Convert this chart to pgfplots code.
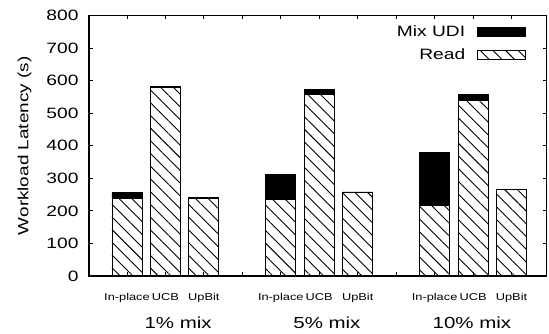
\documentclass[border=0pt]{standalone}
\usepackage{pgfplots}
\pgfplotsset{compat=1.18}
\usepackage{fontspec}
\setmainfont{Liberation Sans}[FakeStretch=1.28]
\usetikzlibrary{patterns.meta}
\begin{document}
\begin{tikzpicture}
\begin{axis}[
  scale only axis, width=457.7pt, height=260.5pt,
  xmin=-0.988, xmax=10.915, ymin=0, ymax=800,
  ybar stacked, bar width=0.78,
  ytick={0,100,...,800},
  xtick={0,...,10},
  xticklabels={In-place,UCB,UpBit,,In-place,UCB,UpBit,,In-place,UCB,UpBit},
  tick align=inside, major tick length=4pt,
  axis line style={line width=1.1pt},
  tick style={line width=0.8pt, black},
  /pgf/number format/assume math mode=true,
  yticklabel style={font=\fontsize{15}{17}\selectfont, xshift=-7pt},
  xticklabel style={font=\fontsize{10}{12}\selectfont, yshift=-14pt},
  ylabel={Workload Latency (s)},
  ylabel style={font=\fontsize{14.8}{16}\selectfont, at={(axis description cs:-0.141,0.5)}, anchor=center},
  clip=false,
  legend style={draw=none, fill=none, font=\fontsize{15}{17}\selectfont,
    at={(axis description cs:0.955,0.968)}, anchor=north east,
    inner sep=0pt, outer sep=0pt, row sep=6.5pt, column sep=10pt},
  legend plot pos=right, legend cell align=right,
  reverse legend,
  legend image code/.code={\draw[#1] (0pt,-4.5pt) rectangle (48pt,4.5pt);},
]
\addplot[draw=black, line width=0.9pt,
  pattern={Lines[angle=-45,distance=9pt,line width=0.9pt]}]
  coordinates {(0,239) (1,578) (2,239) (4,236) (5,558) (6,257) (8,218) (9,540) (10,265)};
\addplot[draw=black, line width=0.9pt, fill=black]
  coordinates {(0,17) (1,3) (2,1) (4,76) (5,15) (6,1) (8,161) (9,18) (10,1)};
\legend{Read,Mix UDI}
\node[font=\fontsize{16}{18}\selectfont, anchor=base] at (axis cs:1.33,-160) {1\% mix};
\node[font=\fontsize{16}{18}\selectfont, anchor=base] at (axis cs:5.2,-160) {5\% mix};
\node[font=\fontsize{16}{18}\selectfont, anchor=base] at (axis cs:8.97,-160) {10\% mix};
\end{axis}
\pgfresetboundingbox
\path (current axis.south west) ++(-89pt,-58pt) rectangle ++(549pt,334pt);
\end{tikzpicture}
\end{document}
